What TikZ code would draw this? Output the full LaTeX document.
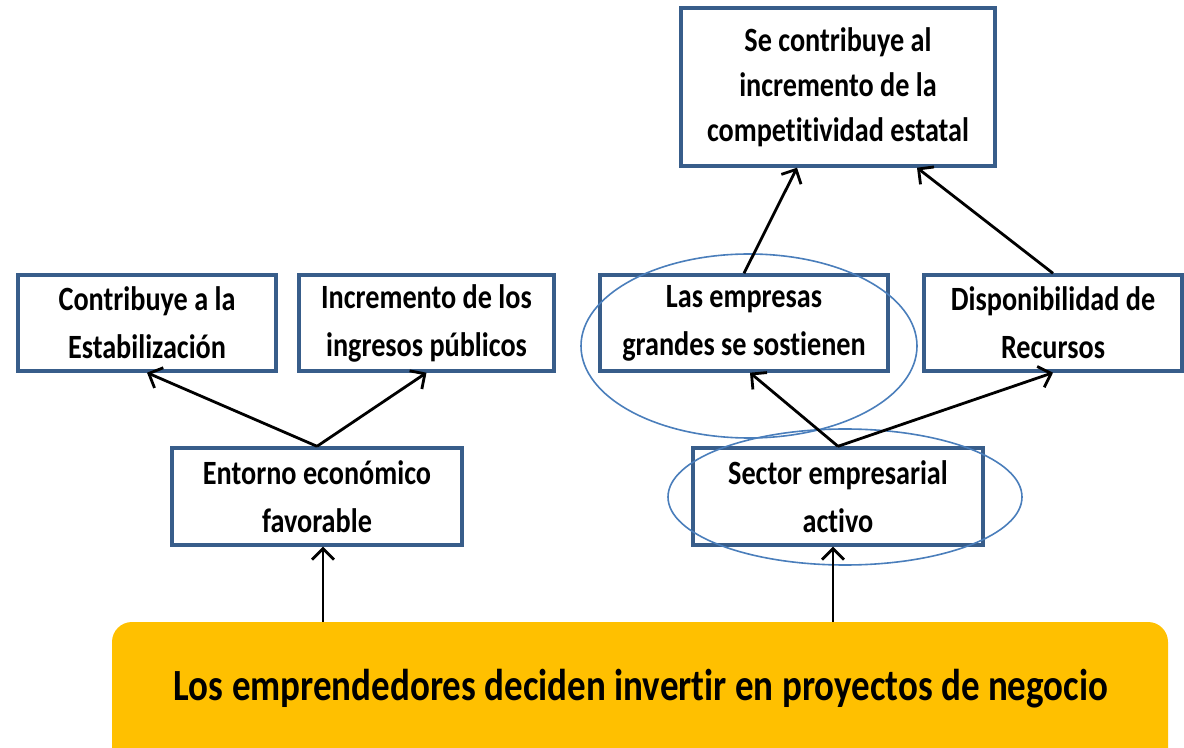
\documentclass[tikz,border=0pt]{standalone}
\usepackage{fontspec}
\setmainfont{Carlito}[FakeStretch=0.83,Ligatures=NoCommon]
\usetikzlibrary{arrows.meta,positioning}
\definecolor{BoxBlue}{RGB}{56,93,138}
\definecolor{RingBlue}{RGB}{74,126,187}
\definecolor{GoldFill}{RGB}{255,192,0}

\begin{document}
\begin{tikzpicture}[x=0.5pt,y=-0.5pt,
  caja/.style={draw=BoxBlue,line width=1.7pt,fill=white,align=center,
    inner sep=0pt,minimum height=48pt,
    font=\fontsize{17}{24}\selectfont\bfseries},
  flecha/.style={line width=1.4pt,-{Straight Barb[length=5.5pt,width=11pt]}},
  anillo/.style={draw=RingBlue,line width=0.8pt}]
  \clip (0,0) rectangle (1184,748);

  % cajas
  \node[caja,minimum width=129pt] (contrib) at (147,323) {Contribuye a la\\Estabilización};
  \node[caja,minimum width=127.5pt] (ingresos) at (426.5,323) {Incremento de los\\ingresos públicos};
  \node[caja,minimum width=145pt,minimum height=48.5pt] (entorno) at (317,496.5) {Entorno económico\\favorable};
  \node[caja,minimum width=157pt,minimum height=79pt,
    font=\fontsize{17}{22.5}\selectfont\bfseries] (compet) at (838,87)
    {Se contribuye al\\incremento de la\\competitividad estatal};
  \node[caja,minimum width=144pt] (grandes) at (744,323) {Las empresas\\grandes se sostienen};
  \node[caja,minimum width=129pt] (recursos) at (1053,323) {Disponibilidad de\\Recursos};
  \node[caja,minimum width=145pt,minimum height=48.5pt] (sector) at (838,496.5) {Sector empresarial\\activo};

  % base
  \node[fill=GoldFill,rounded corners=10pt,minimum width=528pt,minimum height=80pt,
    inner sep=0pt] (base) at (640,702) {};
  \node[font=\fontsize{22.3}{28}\selectfont\bfseries] (lema) at (641,689)
    {Los emprendedores deciden invertir en proyectos de negocio};

  % anillos
  \draw[anillo] (749,346) ellipse [x radius=168, y radius=92];
  \draw[anillo] (845,497) ellipse [x radius=177, y radius=68];

  % flechas
  \draw[flecha] (entorno.north) -- (contrib.south);
  \draw[flecha] (entorno.north) -- (ingresos.south);
  \draw[flecha] ([xshift=3pt]entorno.south |- base.north) -- ([xshift=3pt]entorno.south);
  \draw[flecha] ([xshift=-2.5pt]sector.south |- base.north) -- ([xshift=-2.5pt]sector.south);
  \draw[flecha] (sector.north) -- ([xshift=3pt]grandes.south);
  \draw[flecha] (sector.north) -- (recursos.south);
  \draw[flecha] (grandes.north) -- ([xshift=-20.5pt]compet.south);
  \draw[flecha] (recursos.north) -- ([xshift=39.5pt]compet.south);
\end{tikzpicture}
\end{document}
